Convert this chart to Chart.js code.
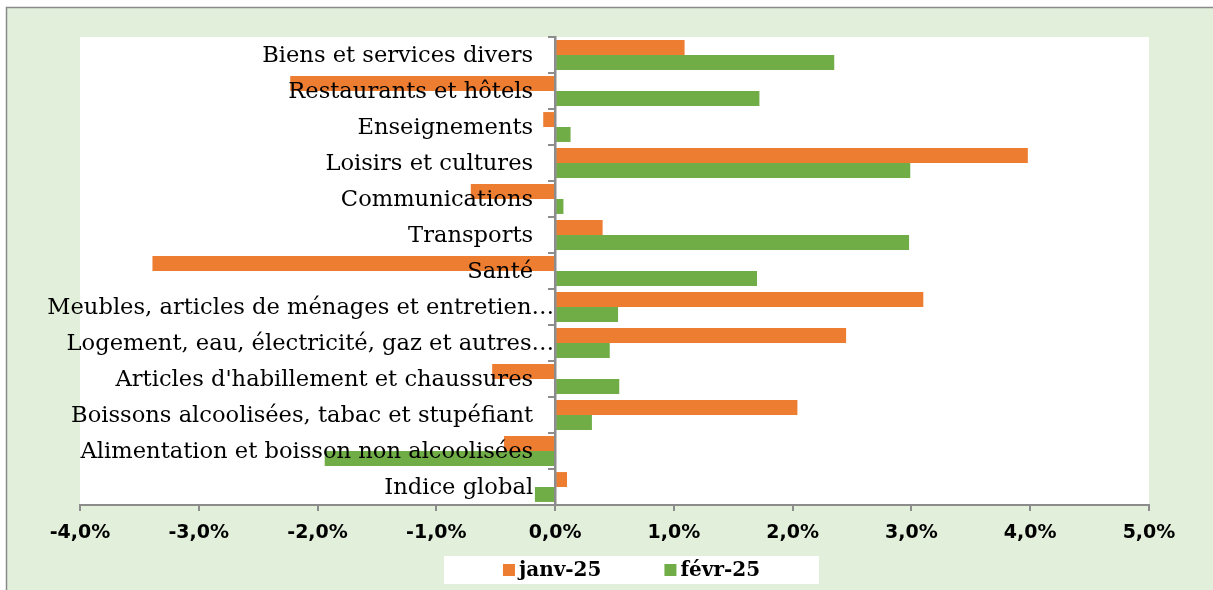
<!DOCTYPE html>
<html>
<head>
<meta charset="utf-8">
<script src="https://cdn.jsdelivr.net/npm/chart.js@4"></script>
<style>
  html, body { margin: 0; padding: 0; background: #ffffff; }
  #wrap { width: 1213px; height: 590px; position: relative; }
</style>
</head>
<body>
<div id="wrap"><canvas id="c" width="1213" height="590"></canvas></div>
<script>
const categories = [
  "Biens et services divers",
  "Restaurants et hôtels",
  "Enseignements",
  "Loisirs et cultures",
  "Communications",
  "Transports",
  "Santé",
  "Meubles, articles de ménages et entretien…",
  "Logement, eau, électricité, gaz et autres…",
  "Articles d'habillement et chaussures",
  "Boissons alcoolisées, tabac et stupéfiant",
  "Alimentation et boisson non alcoolisées",
  "Indice global"
];
const seriesNames = ["janv-25", "févr-25"];
const janv25 = [1.09, -2.23, -0.10, 3.98, -0.71, 0.40, -3.39, 3.10, 2.45, -0.53, 2.04, -0.43, 0.10];
const fevr25 = [2.35, 1.72, 0.13, 2.99, 0.07, 2.98, 1.70, 0.53, 0.46, 0.54, 0.31, -1.94, -0.17];
const xMin = -4, xMax = 5, xStep = 1;

const ORANGE = "#ED7D31", GREEN = "#70AD47", BG = "#E2EFDA", AXIS = "#8C8C8C";
const LABEL_GAP = 22;      // distance from the zero axis to the right edge of category labels
const LABEL_GAP_TRUNC = 1; // truncated labels (ending with …) run up to the axis

const bgPlugin = {
  id: "bgPlugin",
  beforeDraw(chart) {
    const ctx = chart.ctx, W = chart.width, H = chart.height, a = chart.chartArea;
    ctx.save();
    ctx.fillStyle = "#ffffff";
    ctx.fillRect(0, 0, W, H);
    ctx.fillStyle = BG;
    ctx.fillRect(7, 8, W - 7, H - 8);
    ctx.strokeStyle = "#8a8a8a";
    ctx.lineWidth = 1.5;
    ctx.beginPath();
    ctx.moveTo(6.5, H);
    ctx.lineTo(6.5, 7.5);
    ctx.lineTo(W, 7.5);
    ctx.stroke();
    ctx.fillStyle = "#ffffff";
    ctx.fillRect(a.left, a.top, a.right - a.left, a.bottom - a.top);
    ctx.restore();
  }
};

const legendPlugin = {
  id: "legendPlugin",
  afterDraw(chart) {
    const ctx = chart.ctx;
    ctx.save();
    const boxX = 444, boxY = 556, boxW = 375, boxH = 28;
    ctx.fillStyle = "#ffffff";
    ctx.fillRect(boxX, boxY, boxW, boxH);
    ctx.font = "bold 20px 'DejaVu Serif'";
    ctx.textBaseline = "middle";
    ctx.textAlign = "left";
    const sq = 12, gapText = 4, gapItem = 63;
    const ds = chart.data.datasets;
    let total = 0;
    ds.forEach((d, i) => {
      total += sq + gapText + ctx.measureText(d.label).width;
      if (i < ds.length - 1) total += gapItem;
    });
    let x = boxX + boxW / 2 - total / 2;
    const cy = boxY + boxH / 2;
    ds.forEach((d, i) => {
      ctx.fillStyle = d.backgroundColor;
      ctx.fillRect(x, cy - sq / 2, sq, sq);
      x += sq + gapText;
      ctx.fillStyle = "#000000";
      ctx.fillText(d.label, x, cy + 1);
      x += ctx.measureText(d.label).width + gapItem;
    });
    ctx.restore();
  }
};

new Chart(document.getElementById("c"), {
  type: "bar",
  data: {
    labels: categories,
    datasets: [
      { label: seriesNames[0], data: janv25, backgroundColor: ORANGE, borderWidth: 0 },
      { label: seriesNames[1], data: fevr25, backgroundColor: GREEN, borderWidth: 0 }
    ]
  },
  options: {
    indexAxis: "y",
    responsive: false,
    animation: false,
    events: [],
    datasets: { bar: { categoryPercentage: 0.83, barPercentage: 1.0 } },
    layout: { padding: { top: 37, left: 80, right: 64, bottom: 48 } },
    plugins: { legend: { display: false }, tooltip: { enabled: false } },
    scales: {
      x: {
        type: "linear",
        position: "bottom",
        min: xMin, max: xMax,
        afterFit(s) { s.height = 37; },
        ticks: {
          stepSize: xStep,
          padding: 11,
          color: "#000000",
          font: { family: "'DejaVu Sans'", size: 19, weight: "bold" },
          callback: v => v.toFixed(1).replace(".", ",") + "%"
        },
        grid: { display: true, drawOnChartArea: false, drawTicks: true, tickLength: 6, color: AXIS, lineWidth: 2 },
        border: { display: true, color: AXIS, width: 2 }
      },
      y: {
        type: "category",
        position: { x: 0 },
        offset: true,
        afterUpdate(scale) {
          if (!scale.__gapPatched) {
            const orig = scale._computeLabelItems;
            scale._computeLabelItems = function (ca) {
              const items = orig.call(this, ca);
              items.forEach(it => {
                const txt = String(it.label);
                it.options.translation[0] -= txt.endsWith("…") ? LABEL_GAP_TRUNC : LABEL_GAP;
                it.options.translation[1] += 1;
              });
              return items;
            };
            scale.__gapPatched = true;
          }
        },
        ticks: {
          z: 1,
          autoSkip: false,
          padding: 16,
          color: "#000000",
          font: { family: "'DejaVu Serif'", size: 22.6 }
        },
        grid: { display: true, offset: true, drawOnChartArea: false, drawTicks: true, tickLength: 6, color: AXIS, lineWidth: 2 },
        border: { display: true, color: AXIS, width: 2.5, z: 1 }
      }
    }
  },
  plugins: [bgPlugin, legendPlugin]
});
</script>
</body>
</html>
